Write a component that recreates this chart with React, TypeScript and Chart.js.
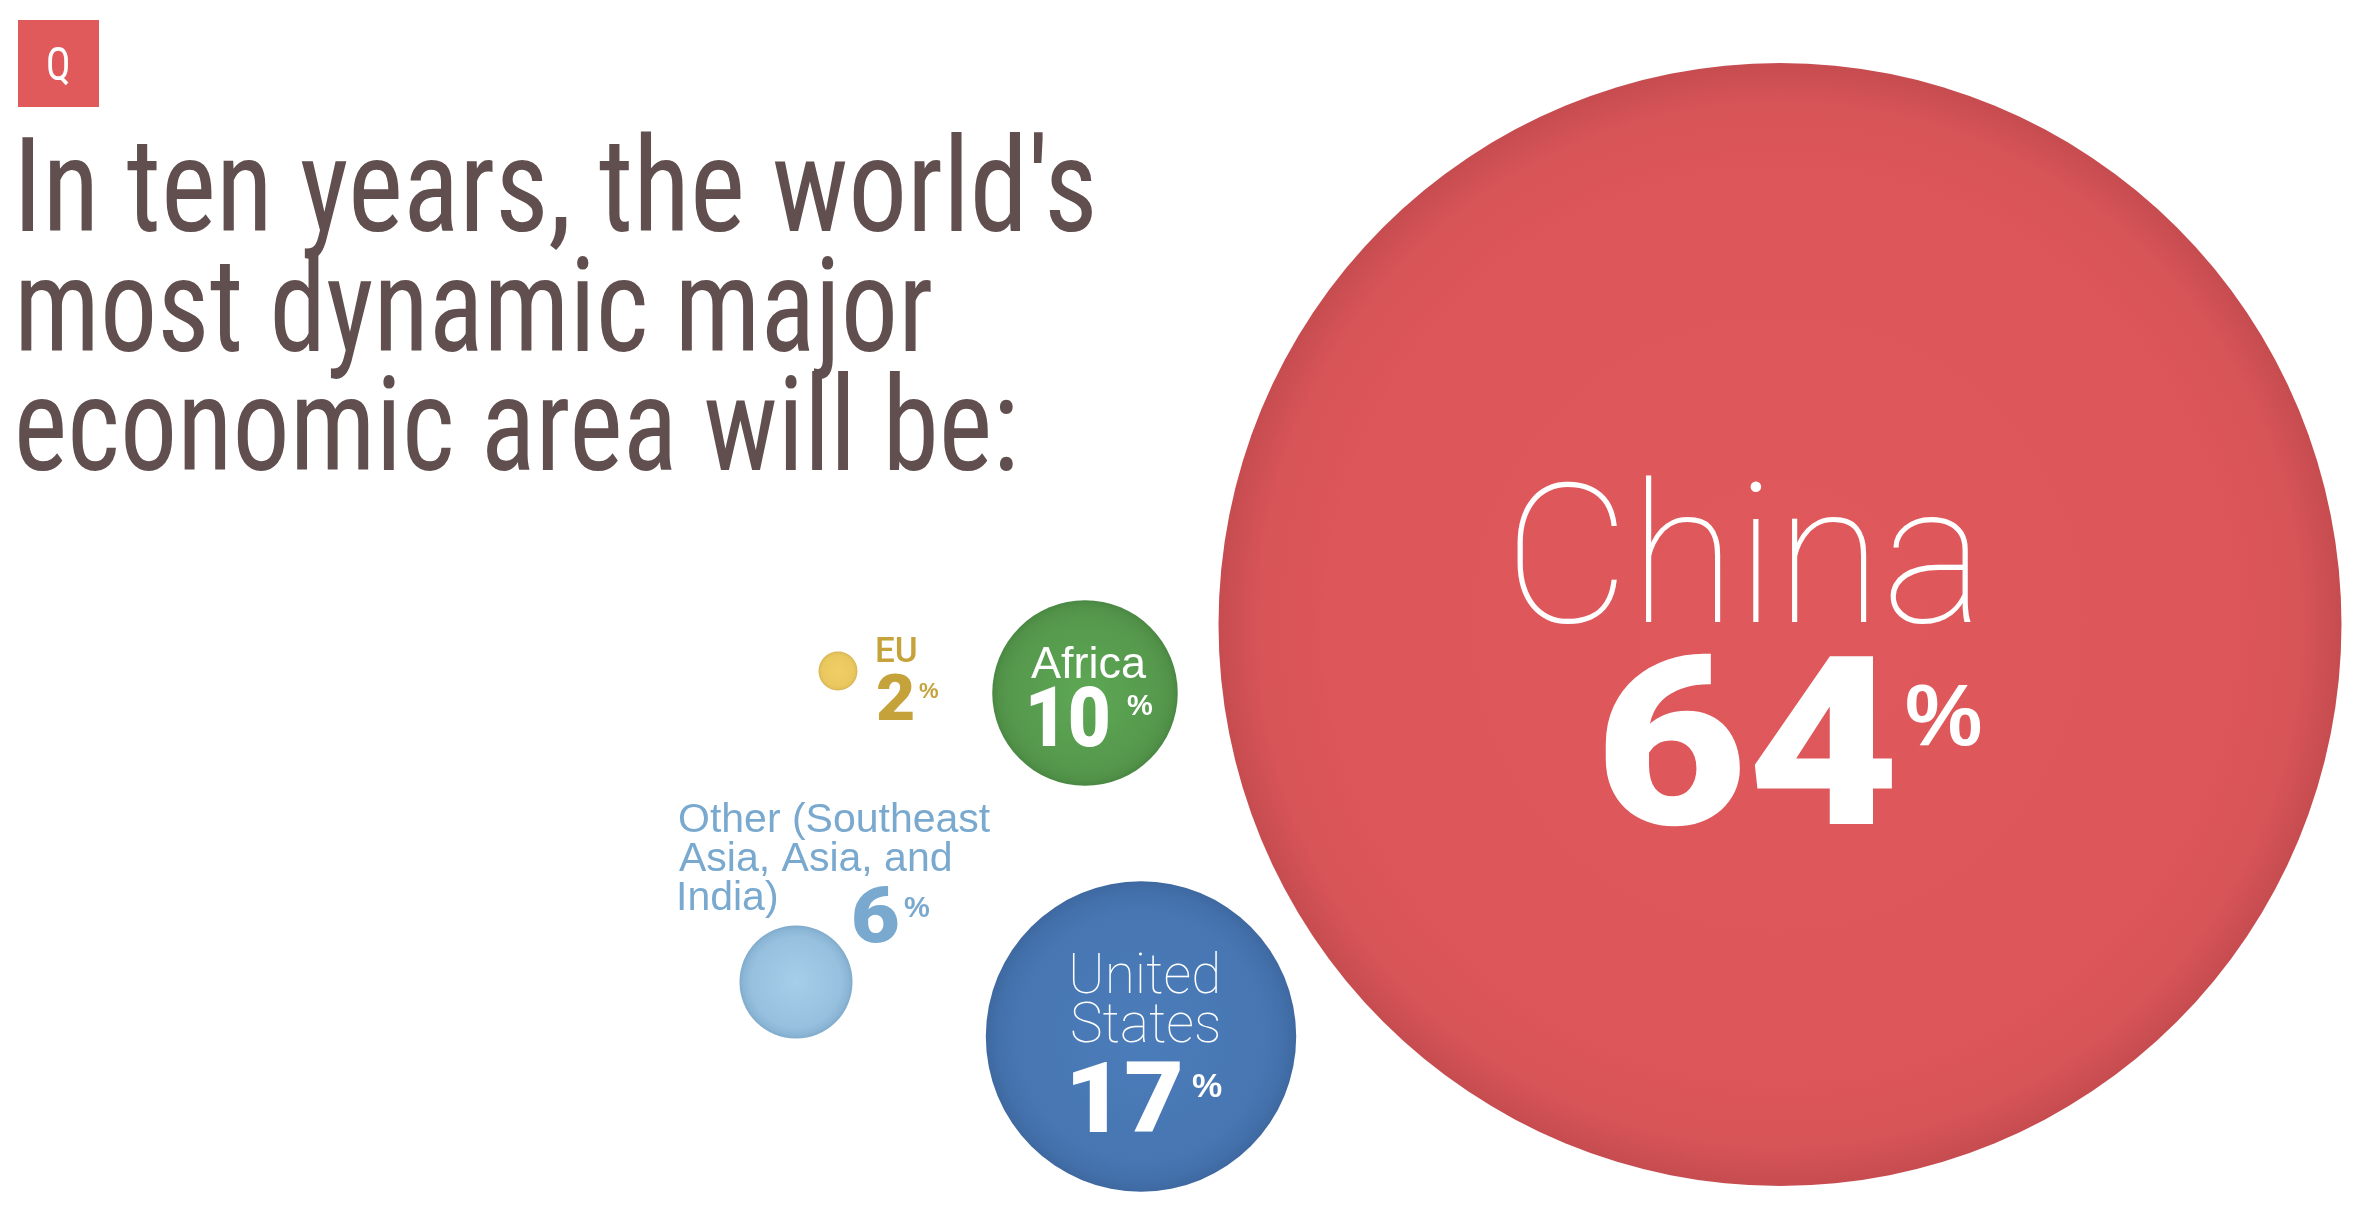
import React, { useEffect, useRef } from "react";
import { Chart, registerables } from "chart.js";

Chart.register(...registerables);

// ---------- data ----------
const regions = ["China", "United States", "Africa", "Other (Southeast Asia, Asia, and India)", "EU"];
const shares = [64, 17, 10, 6, 2];
// packed-bubble layout: centre of each bubble in units of the hidden x / y scales
const bubbleX = [1780, 1141, 1085, 796, 838];
const bubbleY = [624.5, 1036.5, 693, 982, 671];
const titleLines = ["In ten years, the world's", "most dynamic major", "economic area will be:"];
const badgeText = "Q";
const pctSign = "%";

// ---------- styles ----------
const W_UNITS = 2354;
const H_UNITS = 1213;
const RADIUS_EXP = 0.97;
const RADIUS_PER_UNIT = 0.008194; // fraction of chart height per share^exp

const GRADIENTS: string[][] = [
  ["#df595c", "#dd5659", "#d75457", "#c64c50"],
  ["#4b7dba", "#4776b2", "#4370aa", "#3e68a0"],
  ["#5da854", "#56994d", "#519248", "#4a8843"],
  ["#a4cee9", "#96c0de", "#8cb6d5", "#80abcc"],
  ["#f1cf66", "#eac860", "#e2bf59", "#d3b14f"],
];
const GRAD_STOPS = [0, 0.8, 0.93, 1];

const SANS = "'Liberation Sans', Arial, Helvetica, sans-serif";
const THIN = "Roboto, 'Liberation Sans', sans-serif";
const HEAVY = "Roboto, 'Liberation Sans', sans-serif";
const TITLE_FONT = "'Roboto Condensed', 'Liberation Sans Narrow', 'DejaVu Sans Condensed', Roboto, 'Liberation Sans', sans-serif";

type LabelStyle = {
  color: string;
  nameFamily: string; nameWeight: number; nameSize: number; nameWrap: number;
  nameAlign: "left" | "center"; nameDx: number; nameDy: number; nameLH: number;
  numFamily: string; numWeight: number; numSize: number; numDx: number; numDy: number; numInkW: number;
  pctSize: number; pctGap: number; pctDy: number;
};

const LABELS: LabelStyle[] = [
  { color: "#ffffff", nameFamily: THIN, nameWeight: 100, nameSize: 194, nameWrap: 900, nameAlign: "center", nameDx: -36, nameDy: -2.5, nameLH: 0,
    numFamily: HEAVY, numWeight: 900, numSize: 236, numDx: -175, numDy: 199.5, numInkW: 287, pctSize: 87, pctGap: 15, pctDy: 120.5 },
  { color: "#ffffff", nameFamily: THIN, nameWeight: 100, nameSize: 55, nameWrap: 200, nameAlign: "left", nameDx: -69, nameDy: -43.5, nameLH: 49,
    numFamily: HEAVY, numWeight: 900, numSize: 98, numDx: -69, numDy: 95.5, numInkW: 108, pctSize: 34, pctGap: 12, pctDy: 60.5 },
  { color: "#ffffff", nameFamily: SANS, nameWeight: 400, nameSize: 45, nameWrap: 300, nameAlign: "left", nameDx: -54, nameDy: -15, nameLH: 0,
    numFamily: HEAVY, numWeight: 900, numSize: 83, numDx: -55, numDy: 53, numInkW: 78, pctSize: 29, pctGap: 19, pctDy: 22 },
  { color: "#79a9cf", nameFamily: SANS, nameWeight: 400, nameSize: 41, nameWrap: 330, nameAlign: "left", nameDx: -117, nameDy: -150, nameLH: 39,
    numFamily: HEAVY, numWeight: 900, numSize: 77, numDx: 58, numDy: -40, numInkW: 44, pctSize: 29, pctGap: 6, pctDy: -65 },
  { color: "#c6a23a", nameFamily: THIN, nameWeight: 500, nameSize: 35, nameWrap: 300, nameAlign: "left", nameDx: 39, nameDy: -9, nameLH: 0,
    numFamily: HEAVY, numWeight: 900, numSize: 64, numDx: 39, numDy: 49, numInkW: 36, pctSize: 22, pctGap: 6, pctDy: 27 },
];

const TITLE_COLOR = "#614f4f";
const TITLE_SIZE = 132;
const TITLE_INK_LEFT = [22, 21, 19];
const TITLE_INK_WIDTHS = [1070, 910, 994];
const TITLE_BASE = 231;
const TITLE_LH = 119.5;
const BADGE = { x: 18, y: 20, w: 81, h: 87, color: "#e05a5b", size: 46, baseline: 80 };

function radiusFor(chart: any, i: number): number {
  const h = chart.chartArea ? chart.chartArea.bottom - chart.chartArea.top : chart.height;
  return Math.pow(shares[i], RADIUS_EXP) * h * RADIUS_PER_UNIT;
}

function wrap(ctx: CanvasRenderingContext2D, text: string, maxW: number): string[] {
  const words = text.split(" ");
  const lines: string[] = [];
  let cur = "";
  for (const w of words) {
    const t = cur ? cur + " " + w : w;
    if (cur && ctx.measureText(t).width > maxW) {
      lines.push(cur);
      cur = w;
    } else cur = t;
  }
  if (cur) lines.push(cur);
  return lines;
}

const labelPlugin = {
  id: "bubbleLabels",
  afterDatasetsDraw(chart: any) {
    const ctx: CanvasRenderingContext2D = chart.ctx;
    const meta = chart.getDatasetMeta(0);
    meta.data.forEach((el: any, i: number) => {
      const s = LABELS[i];
      const cx = el.x, cy = el.y;
      ctx.save();
      ctx.fillStyle = s.color;
      ctx.textAlign = "left";
      ctx.textBaseline = "alphabetic";
      // region name
      ctx.font = `${s.nameWeight} ${s.nameSize}px ${s.nameFamily}`;
      const lines = wrap(ctx, regions[i], s.nameWrap);
      lines.forEach((ln, k) => {
        const m = ctx.measureText(ln);
        const ink = m.actualBoundingBoxLeft + m.actualBoundingBoxRight;
        const inkLeft = s.nameAlign === "center" ? cx + s.nameDx - ink / 2 : cx + s.nameDx;
        ctx.fillText(ln, inkLeft + m.actualBoundingBoxLeft, cy + s.nameDy + k * s.nameLH);
      });
      // share value
      ctx.font = `${s.numWeight} ${s.numSize}px ${s.numFamily}`;
      const num = String(shares[i]);
      const mn = ctx.measureText(num);
      const inkW = mn.actualBoundingBoxLeft + mn.actualBoundingBoxRight;
      const sxn = s.numInkW / inkW;
      ctx.save();
      ctx.translate(cx + s.numDx, cy + s.numDy);
      ctx.scale(sxn, 1);
      ctx.fillText(num, mn.actualBoundingBoxLeft, 0);
      ctx.restore();
      const inkRight = cx + s.numDx + s.numInkW;
      // percent sign
      ctx.font = `700 ${s.pctSize}px ${SANS}`;
      const mp = ctx.measureText(pctSign);
      ctx.fillText(pctSign, inkRight + s.pctGap + mp.actualBoundingBoxLeft, cy + s.pctDy);
      ctx.restore();
    });
  },
  afterDraw(chart: any) {
    const ctx: CanvasRenderingContext2D = chart.ctx;
    ctx.save();
    ctx.textAlign = "left";
    ctx.textBaseline = "alphabetic";
    ctx.font = `400 ${TITLE_SIZE}px ${TITLE_FONT}`;
    ctx.fillStyle = TITLE_COLOR;
    let sx0 = 1;
    titleLines.forEach((ln, k) => {
      const m = ctx.measureText(ln);
      const sx = TITLE_INK_WIDTHS[k] / (m.actualBoundingBoxLeft + m.actualBoundingBoxRight);
      if (k === 0) sx0 = sx;
      ctx.save();
      ctx.translate(TITLE_INK_LEFT[k], TITLE_BASE + k * TITLE_LH);
      ctx.scale(sx, 1);
      ctx.fillText(ln, m.actualBoundingBoxLeft, 0);
      ctx.restore();
    });
    // question badge
    ctx.fillStyle = BADGE.color;
    ctx.fillRect(BADGE.x, BADGE.y, BADGE.w, BADGE.h);
    ctx.fillStyle = "#ffffff";
    ctx.font = `400 ${BADGE.size}px ${TITLE_FONT}`;
    const mq = ctx.measureText(badgeText);
    ctx.save();
    ctx.translate(BADGE.x + BADGE.w / 2, BADGE.baseline);
    ctx.scale(sx0, 1);
    ctx.fillText(badgeText, -(mq.actualBoundingBoxRight - mq.actualBoundingBoxLeft) / 2, 0);
    ctx.restore();
    ctx.restore();
  },
};

export default function App() {
  const ref = useRef<HTMLCanvasElement>(null);
  useEffect(() => {
    if (!ref.current) return;
    const chart = new Chart(ref.current, {
      type: "bubble",
      data: {
        labels: regions,
        datasets: [
          {
            label: "Share of respondents",
            data: shares.map((_, i) => ({ x: bubbleX[i], y: bubbleY[i] })),
            radius: (c: any) => (c.dataIndex === undefined ? 0 : radiusFor(c.chart, c.dataIndex)),
            borderWidth: 0,
            hoverRadius: 0,
            clip: false,
            backgroundColor: (c: any) => {
              const i = c.dataIndex;
              if (i === undefined) return "#cccccc";
              const chart = c.chart;
              if (!chart.chartArea) return GRADIENTS[i][1];
              const px = chart.scales.x.getPixelForValue(bubbleX[i]);
              const py = chart.scales.y.getPixelForValue(bubbleY[i]);
              const r = radiusFor(chart, i);
              const g = chart.ctx.createRadialGradient(px, py, 0, px, py, r);
              GRADIENTS[i].forEach((col, k) => g.addColorStop(GRAD_STOPS[k], col));
              return g;
            },
          } as any,
        ],
      },
      options: {
        animation: false,
        responsive: true,
        maintainAspectRatio: false,
        events: [],
        layout: { padding: 0, autoPadding: false },
        plugins: { legend: { display: false }, tooltip: { enabled: false }, title: { display: false } },
        scales: {
          x: { type: "linear", min: 0, max: W_UNITS, display: false },
          y: { type: "linear", min: 0, max: H_UNITS, reverse: true, display: false },
        },
      },
      plugins: [labelPlugin as any],
    });
    return () => chart.destroy();
  }, []);
  return (
    <div style={{ position: "fixed", left: 0, top: 0, width: "100vw", height: "100vh", background: "#ffffff" }}>
      <canvas ref={ref} />
    </div>
  );
}
